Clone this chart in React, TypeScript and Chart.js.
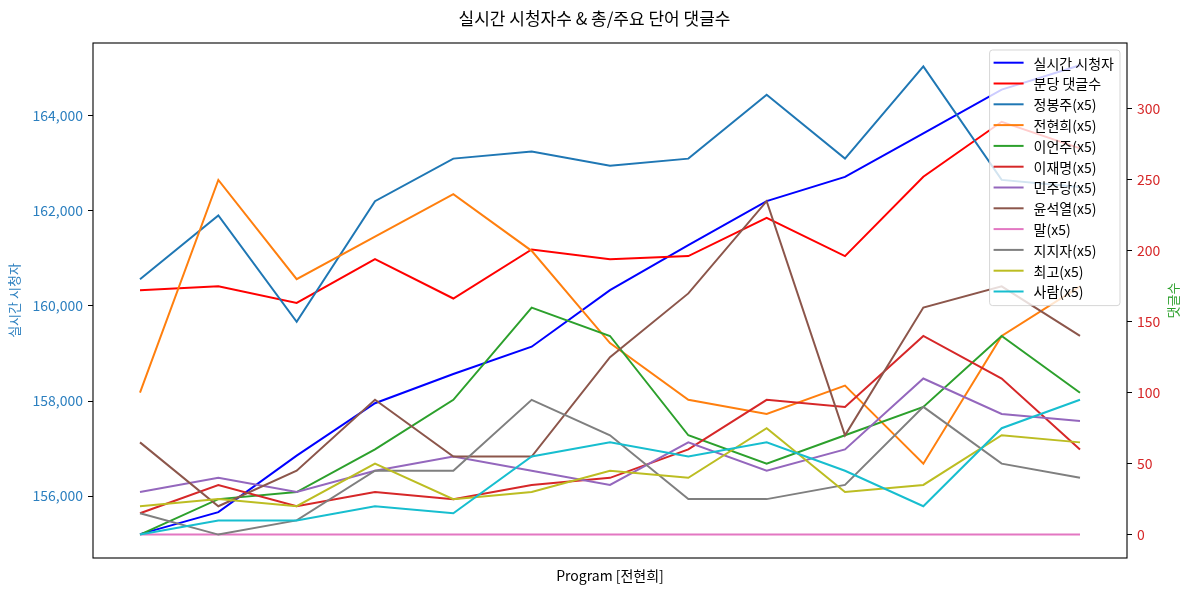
import React, { useEffect, useRef } from "react";
import { Chart, registerables } from "chart.js";

Chart.register(...registerables);

const FONT = "'Noto Sans CJK KR', 'Noto Sans', sans-serif";

const TITLE = "실시간 시청자수 & 총/주요 단어 댓글수";
const X_TITLE = "Program [전현희]";
const LEFT_TITLE = "실시간 시청자";
const RIGHT_TITLE = "댓글수";

const categories = [0, 1, 2, 3, 4, 5, 6, 7, 8, 9, 10, 11, 12];

const viewers = [155202, 155664, 156853, 157954, 158569, 159143, 160334, 161279, 162204, 162714, 163632, 164550, 165061];
const perMinute = [172.3, 175.1, 163.3, 194.1, 166.4, 201.0, 194.1, 196.3, 223.3, 196.3, 252.2, 291.0, 272.2];

const jeongBongju = [180, 225, 150, 235, 265, 270, 260, 265, 310, 265, 330, 250, 245];
const jeonHyunhee = [100, 250, 180, 210, 240, 200, 135, 95, 85, 105, 50, 140, 175];
const leeEonju = [0, 25, 30, 60, 95, 160, 140, 70, 50, 70, 90, 140, 100];
const leeJaemyung = [15, 35, 20, 30, 25, 35, 40, 60, 95, 90, 140, 110, 60];
const minjudang = [30, 40, 30, 45, 55, 45, 35, 65, 45, 60, 110, 85, 80];
const yoonSeokyeol = [65, 20, 45, 95, 55, 55, 125, 170, 235, 70, 160, 175, 140];
const mal = [0, 0, 0, 0, 0, 0, 0, 0, 0, 0, 0, 0, 0];
const jijija = [15, 0, 10, 45, 45, 95, 70, 25, 25, 35, 90, 50, 40];
const choego = [20, 25, 20, 50, 25, 30, 45, 40, 75, 30, 35, 70, 65];
const saram = [0, 10, 10, 20, 15, 55, 65, 55, 65, 45, 20, 75, 95];

const leftTicks = [156000, 158000, 160000, 162000, 164000];
const rightTicks = [0, 50, 100, 150, 200, 250, 300];

const keywordSeries: [string, number[], string][] = [
  ["정봉주(x5)", jeongBongju, "#1f77b4"],
  ["전현희(x5)", jeonHyunhee, "#ff7f0e"],
  ["이언주(x5)", leeEonju, "#2ca02c"],
  ["이재명(x5)", leeJaemyung, "#d62728"],
  ["민주당(x5)", minjudang, "#9467bd"],
  ["윤석열(x5)", yoonSeokyeol, "#8c564b"],
  ["말(x5)", mal, "#e377c2"],
  ["지지자(x5)", jijija, "#7f7f7f"],
  ["최고(x5)", choego, "#bcbd22"],
  ["사람(x5)", saram, "#17becf"],
];

const toPoints = (arr: number[]) => arr.map((v, i) => ({ x: categories[i], y: v }));

const overlayPlugin = {
  id: "overlay",
  afterDatasetsDraw(chart: any) {
    const { ctx, chartArea } = chart;
    const { left, right, top, bottom } = chartArea;
    ctx.save();
    // frame
    ctx.strokeStyle = "#000";
    ctx.lineWidth = 1.1;
    ctx.strokeRect(left, top, right - left, bottom - top);

    // legend
    const fs = 14;
    ctx.font = `${fs}px ${FONT}`;
    const items = chart.data.datasets.map((d: any) => ({ label: d.label, color: d.borderColor }));
    let maxW = 0;
    items.forEach((it: any) => {
      maxW = Math.max(maxW, ctx.measureText(it.label).width);
    });
    const rowH = 20.8;
    const padX = 4;
    const lineLen = 30;
    const gap = 10;
    const boxW = padX + lineLen + gap + maxW + 6;
    const boxH = rowH * items.length + 6;
    const bx = right - 7 - boxW;
    const by = top + 7;
    ctx.beginPath();
    const r = 3;
    ctx.moveTo(bx + r, by);
    ctx.lineTo(bx + boxW - r, by);
    ctx.quadraticCurveTo(bx + boxW, by, bx + boxW, by + r);
    ctx.lineTo(bx + boxW, by + boxH - r);
    ctx.quadraticCurveTo(bx + boxW, by + boxH, bx + boxW - r, by + boxH);
    ctx.lineTo(bx + r, by + boxH);
    ctx.quadraticCurveTo(bx, by + boxH, bx, by + boxH - r);
    ctx.lineTo(bx, by + r);
    ctx.quadraticCurveTo(bx, by, bx + r, by);
    ctx.closePath();
    ctx.fillStyle = "rgba(255,255,255,0.8)";
    ctx.fill();
    ctx.strokeStyle = "rgba(204,204,204,0.8)";
    ctx.lineWidth = 1;
    ctx.stroke();
    ctx.textBaseline = "middle";
    ctx.textAlign = "left";
    items.forEach((it: any, i: number) => {
      const cy = by + 12.7 + i * rowH;
      ctx.strokeStyle = it.color;
      ctx.lineWidth = 2;
      ctx.beginPath();
      ctx.moveTo(bx + padX, cy);
      ctx.lineTo(bx + padX + lineLen, cy);
      ctx.stroke();
      ctx.fillStyle = "#000";
      ctx.fillText(it.label, bx + padX + lineLen + gap, cy + 0.5);
    });
    ctx.restore();
  },
  afterDraw(chart: any) {
    const { ctx, chartArea } = chart;
    ctx.save();
    // figure title
    ctx.font = `17px ${FONT}`;
    ctx.fillStyle = "#000";
    ctx.textAlign = "center";
    ctx.textBaseline = "middle";
    ctx.fillText(TITLE, chart.width / 2, 19);
    // right axis title (reads bottom to top)
    ctx.translate(1173, (chartArea.top + chartArea.bottom) / 2);
    ctx.rotate(-Math.PI / 2);
    ctx.font = `13px ${FONT}`;
    ctx.fillStyle = "#2ca02c";
    ctx.fillText(RIGHT_TITLE, 0, 0);
    ctx.restore();
  },
};

export default function App() {
  const ref = useRef<HTMLCanvasElement | null>(null);

  useEffect(() => {
    document.body.style.margin = "0";
    if (!ref.current) return;

    const base = [
      { label: "실시간 시청자", data: toPoints(viewers), borderColor: "#0000ff", yAxisID: "y" },
      { label: "분당 댓글수", data: toPoints(perMinute), borderColor: "#ff0000", yAxisID: "y1" },
      ...keywordSeries.map(([label, arr, color]) => ({ label, data: toPoints(arr), borderColor: color, yAxisID: "y1" })),
    ];
    const datasets = base.map((d, i, arr) => ({
      ...d,
      backgroundColor: d.borderColor,
      borderWidth: 2,
      pointRadius: 0,
      pointHoverRadius: 0,
      fill: false,
      tension: 0,
      order: arr.length - i,
    }));

    const chart = new Chart(ref.current, {
      type: "line",
      data: { datasets },
      plugins: [overlayPlugin],
      options: {
        responsive: false,
        animation: false,
        events: [],
        layout: { padding: { top: 43, left: 0, right: 0, bottom: 0 } },
        plugins: {
          legend: { display: false },
          title: { display: false },
          tooltip: { enabled: false },
        },
        scales: {
          x: {
            type: "linear",
            min: -0.6,
            max: 12.6,
            ticks: { display: false },
            grid: { display: false },
            border: { display: false },
            title: {
              display: true,
              text: X_TITLE,
              color: "#000",
              font: { size: 14, family: FONT },
              padding: { top: 0, bottom: 8 },
            },
            afterFit: (s: any) => {
              s.height = 34;
            },
          },
          y: {
            type: "linear",
            position: "left",
            min: 154700,
            max: 165530,
            afterBuildTicks: (s: any) => {
              s.ticks = leftTicks.map((v) => ({ value: v }));
            },
            ticks: {
              color: "#2b7fbf",
              font: { size: 14, family: FONT },
              padding: 5,
              callback: (v: any) => Number(v).toLocaleString("en-US"),
            },
            grid: { display: true, drawOnChartArea: false, tickLength: 5, color: "#000" },
            border: { display: false },
            title: {
              display: true,
              text: LEFT_TITLE,
              color: "#2b7fbf",
              font: { size: 13, family: FONT },
              padding: { top: 6, bottom: 0 },
            },
            afterFit: (s: any) => {
              s.width = 93;
            },
          },
          y1: {
            type: "linear",
            position: "right",
            min: -16.5,
            max: 346.5,
            afterBuildTicks: (s: any) => {
              s.ticks = rightTicks.map((v) => ({ value: v }));
            },
            ticks: {
              color: "#d62728",
              font: { size: 14, family: FONT },
              padding: 5,
              callback: (v: any) => String(v),
            },
            grid: { display: true, drawOnChartArea: false, tickLength: 5, color: "#000" },
            border: { display: false },
            afterFit: (s: any) => {
              s.width = 62;
            },
          },
        },
      } as any,
    });

    return () => chart.destroy();
  }, []);

  return (
    <div style={{ width: 1189, height: 592 }}>
      <canvas ref={ref} width={1189} height={592} style={{ display: "block" }} />
    </div>
  );
}
